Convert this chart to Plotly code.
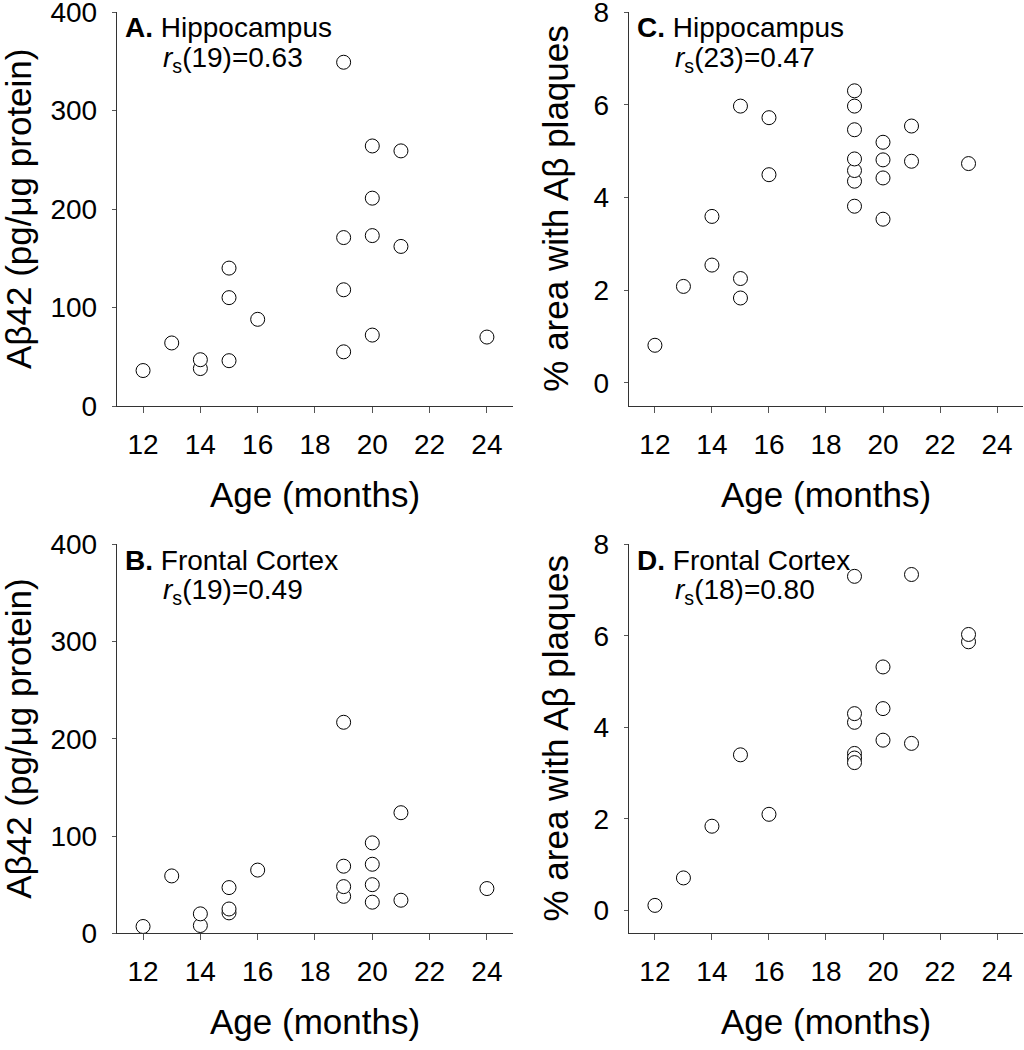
import plotly.graph_objects as go

W, H = 1024, 1050

# ---- data ----
ages_A = [12, 13, 14, 14, 15, 15, 15, 16, 19, 19, 19, 19, 20, 20, 20, 20, 21, 21, 24]
abeta_A = [36, 64, 38, 47, 46, 110, 140, 88, 55, 118, 171, 349, 72, 173, 211, 264, 162, 259, 70]

ages_B = [12, 13, 14, 14, 15, 15, 15, 16, 19, 19, 19, 19, 20, 20, 20, 20, 21, 21, 24]
abeta_B = [7, 59, 8, 20, 21, 25, 47, 65, 38, 48, 69, 217, 32, 50, 71, 93, 34, 124, 46]

ages_C = [12, 13, 14, 14, 15, 15, 15, 16, 16, 19, 19, 19, 19, 19, 19, 19, 20, 20, 20, 20, 21, 21, 23]
plaque_C = [0.81, 2.08, 2.54, 3.59, 1.83, 2.25, 5.97, 4.49, 5.72, 3.81, 4.35, 4.58, 4.83, 5.46, 5.97, 6.30,
            3.53, 4.42, 4.81, 5.19, 4.78, 5.54, 4.73]

ages_D = [12, 13, 14, 15, 16, 19, 19, 19, 19, 19, 19, 20, 20, 20, 21, 21, 23, 23]
plaque_D = [0.11, 0.71, 1.84, 3.40, 2.10, 4.11, 4.30, 3.43, 3.33, 3.23, 7.30, 3.72, 4.41, 5.32, 3.65, 7.34, 5.87, 6.03]

x_ticks = [12, 14, 16, 18, 20, 22, 24]
abeta_ticks = [0, 100, 200, 300, 400]
plaque_ticks = [0, 2, 4, 6, 8]

panel_labels = ["A.", "B.", "C.", "D."]
regions = ["Hippocampus", "Frontal Cortex", "Hippocampus", "Frontal Cortex"]
df_vals = ["19", "19", "23", "18"]
rs_vals = ["0.63", "0.49", "0.47", "0.80"]

x_title = "Age (months)"
y_title_left = "Aβ42 (pg/μg protein)"
y_title_right = "% area with Aβ plaques"

FONT = "Liberation Sans, Arial, sans-serif"

def px(xp):
    return xp / W

def py(yp):
    return 1 - yp / H

# panel pixel boxes: (left, right, top, bottom)
boxes = {
    "A": (116.7, 512.7, 12.0, 406.0),
    "B": (116.7, 512.7, 544.3, 933.3),
    "C": (628.7, 1022.7, 12.0, 406.0),
    "D": (628.7, 1022.7, 544.3, 933.3),
}

fig = go.Figure()

panels = [
    ("A", ages_A, abeta_A, "x", "y", [0, 400], abeta_ticks),
    ("B", ages_B, abeta_B, "x2", "y2", [0, 400], abeta_ticks),
    ("C", ages_C, plaque_C, "x3", "y3", [-0.5, 8], plaque_ticks),
    ("D", ages_D, plaque_D, "x4", "y4", [-0.5, 8], plaque_ticks),
]

layout_axes = {}
annotations = []
for i, (key, xs, ys, xa, ya, yr, yt) in enumerate(panels):
    fig.add_trace(go.Scatter(
        x=xs, y=ys, mode="markers", xaxis=xa, yaxis=ya, showlegend=False,
        marker=dict(symbol="circle", size=14, color="white",
                    line=dict(color="black", width=1)),
        cliponaxis=False,
    ))
    l, r, t, b = boxes[key]
    xname = "xaxis" if xa == "x" else "xaxis" + xa[1:]
    yname = "yaxis" if ya == "y" else "yaxis" + ya[1:]
    layout_axes[xname] = dict(
        domain=[px(l), px(r)], anchor=ya, range=[11.08, 24.9],
        tickmode="array", tickvals=x_ticks, ticktext=[str(v) for v in x_ticks],
        showline=True, linecolor="#333333", linewidth=1,
        ticks="outside", ticklen=6, tickcolor="#555555", tickwidth=1,
        showgrid=False, zeroline=False, automargin=False,
        tickfont=dict(family=FONT, size=28, color="black"),
        ticklabelstandoff=7, ticklabeloverflow="allow",
    )
    layout_axes[yname] = dict(
        domain=[py(b), py(t)], anchor=xa, range=yr,
        tickmode="array", tickvals=yt, ticktext=[str(v) for v in yt],
        showline=True, linecolor="#333333", linewidth=1,
        ticks="outside", ticklen=4, tickcolor="#555555", tickwidth=1,
        showgrid=False, zeroline=False, automargin=False,
        tickfont=dict(family=FONT, size=28, color="black"),
        ticklabelstandoff=9, ticklabeloverflow="allow",
    )
    # panel annotation
    annotations.append(dict(
        x=px(l + 6), y=py(t + 16), xref="paper", yref="paper",
        xanchor="left", yanchor="middle", showarrow=False,
        text="<b>%s</b> %s" % (panel_labels[i], regions[i]),
        font=dict(family=FONT, size=28, color="black"),
    ))
    annotations.append(dict(
        x=px(l + 44), y=py(t + 47), xref="paper", yref="paper",
        xanchor="left", yanchor="middle", showarrow=False,
        text="<i>r</i><sub>s</sub>(%s)=%s" % (df_vals[i], rs_vals[i]),
        font=dict(family=FONT, size=28, color="black"),
    ))
    # x axis title
    annotations.append(dict(
        x=px((l + r) / 2), y=py(b + 88), xref="paper", yref="paper",
        xanchor="center", yanchor="middle", showarrow=False,
        text=x_title, font=dict(family=FONT, size=35, color="black"),
    ))
    # y axis title
    ytx = l - 97.7 if key in ("A", "B") else l - 73
    annotations.append(dict(
        x=px(ytx), y=py((t + b) / 2), xref="paper", yref="paper",
        xanchor="center", yanchor="middle", showarrow=False, textangle=-90,
        text=y_title_left if key in ("A", "B") else y_title_right,
        font=dict(family=FONT, size=35, color="black"),
    ))

fig.update_layout(
    width=W, height=H, margin=dict(l=0, r=0, t=0, b=0, pad=0),
    paper_bgcolor="white", plot_bgcolor="white",
    annotations=annotations, **layout_axes,
)

fig.write_html("out.html", config={"displayModeBar": False},
               post_script="document.body.style.margin='0';")
